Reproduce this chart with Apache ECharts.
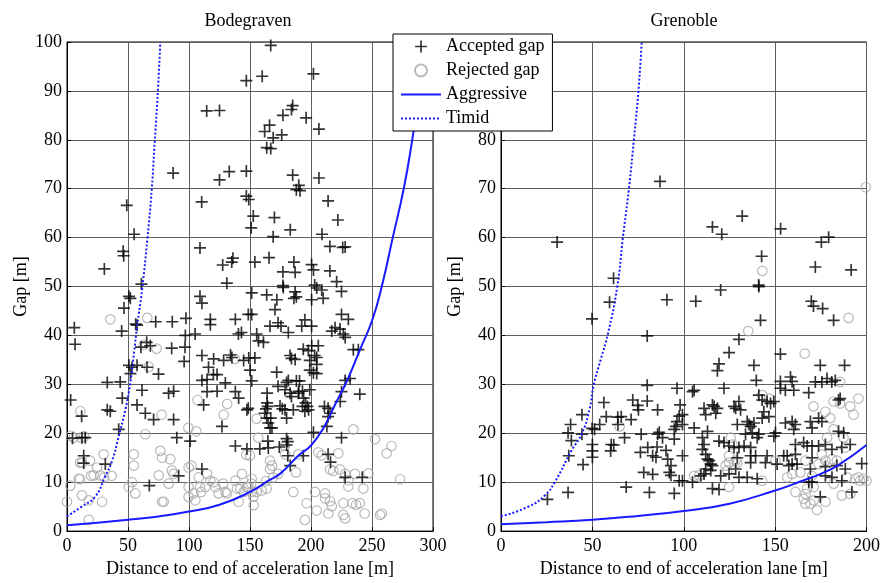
<!DOCTYPE html>
<html>
<head>
<meta charset="utf-8">
<script src="https://cdn.jsdelivr.net/npm/echarts@6/dist/echarts.min.js"></script>
<style>
html,body{margin:0;padding:0;background:#fff;}
#chart{width:883px;height:583px;}
</style>
</head>
<body>
<div id="chart"></div>
<script>
// ---------- data ----------
const panelTitles = ['Bodegraven', 'Grenoble'];
const xTicksLeft = [0, 50, 100, 150, 200, 250, 300];
const xTicksRight = [0, 50, 100, 150, 200];
const yTicks = [0, 10, 20, 30, 40, 50, 60, 70, 80, 90, 100];

const bodAccepted = [
[167,99.3],[147,92.1],[160,93],[202,93.5],[114.5,85.9],[125,86],[185,87],[184,86.2],[177,85],[196,84.5],[206.5,82.2],[166,83],[162,81.7],[169,80.4],[176,81],[163.7,78.4],[167,78.2],[87,73.2],[125,71.8],[133,73.5],[147,73.6],[185,72.8],[206.5,72.2],[190,70.7],[188,69.8],[191,69.6],[49,66.6],[110.4,67.3],[147,68.5],[149,67.8],[214,67.5],[152.7,64.4],[170,64.1],[222,63.6],[151,62],[55,60.7],[169,60.2],[183,61.6],[209,60.7],[46,57.2],[46.5,56.3],[109,57.9],[215.5,58.2],[226,58],[228,58.1],[30.6,53.6],[127.6,54.4],[135,55],[136,55.8],[154,55],[165.6,55.9],[186,55],[200.5,54.5],[177,53],[187,52.9],[202,53.4],[215.5,53.2],[131,50.7],[177,50.2],[221,51],[203,50.3],[61,50.5],
[50.8,48],[51.9,47.6],[46.7,45.6],[44.8,40.9],[56.3,42.3],[57.4,42.1],[6,41.6],[6.6,38.2],[3,26.8],[72.7,42.8],[86.3,42.8],[97.5,43.5],[97,40],[105,40.3],[96.7,37.6],[96,34.7],[85.8,37.4],[65.3,38.6],[60.6,37.6],[68.3,37.9],[50.8,33.9],[53.3,33.5],[57.4,33.9],[65.6,33.5],[52,32.2],[75,32.1],[33,30.4],[43.6,30.5],[45.3,27.2],[61.5,28.8],[57.4,25.8],[64.2,24.1],[71,22.8],[33,24.8],[35.5,24.5],[12,23.5],[42.4,20.8],[4.5,19],[12.3,19.1],[15,19.1],[13.7,15.4],[13.7,13.9],[31.4,13.7],[67.5,9.3],[83.3,28.2],[87.4,28.6],[87.4,22.8],[90,19.1],[91.5,11.3],[101,18.4],[110.6,35.9],[110.6,30.8],[114.8,31],[116,33.5],[120,32],[123,32],[114.8,28.5],[123,28.6],[112,25.8],[120.2,35.2],[128.4,34.9],[134,36],[135.2,35.5],[144.8,34.9],[129.8,30.3],[127,21.4],[110.6,12.7],[138,17.4],[109,48],[110.6,46.6],[117.5,43.3],[117.5,42.2],[138,43.3],[140.5,40.3],[143,40.6],[138,28.5],[140.7,27.2],[147.5,24.8],[147.5,16.8],
[162,24.1],[163.7,23.1],[165,22.1],[166.4,21.1],[167,23.1],[168,21.1],[164,26.2],[164.5,25.5],[163,25],[164,28.2],[164.7,18.4],[165,17],[174.6,25.6],[176.5,25],[180,23.1],[178.7,24.8],[185.5,24.8],[180,18.9],[181,18.3],[180,17.6],[174,17.2],[182.8,28.2],[184,27.5],[189.6,28.2],[190,28.6],[194,27.2],[195.5,26.2],[197,25.5],[198,24.8],[193,25.5],[195,24.5],[199,28.9],[173,29.6],[178.7,28.9],[181.4,30.8],[188,30.7],[190.6,30.7],[199,32.9],[202,32.4],[204.7,32.2],[199,34.9],[204.7,34.1],[203,35.9],[204.7,35.5],[206,37.9],[200.6,37.9],[193.7,37.2],[197.8,36.9],[182.8,35.9],[184,35.3],[187,35.1],[171.9,32.5],[150,32.9],[151.4,30.7],[154,35.4],[149,35.4],[148.6,25.1],[158,16.8],[181,15.4],[183,13.4],[193.7,15.4],[148.6,44.3],[151.4,44.3],[155.5,40.3],[157,38.9],[161,38.6],[166.4,41.9],[173,42.6],[175.4,41.9],[181.4,40.6],[192.4,41.9],[200.5,41.9],[195,43.2],[217,40.9],[219.7,41.6],[223.8,41.3],[226.5,40.3],[228,39.6],[225,44.3],[230.6,43.3],[170.5,45.3],[172,47.3],[163.7,48.3],[151.4,48.7],[187,48.9],[188,47.9],[186,47.6],[204.7,49.7],[208.8,49.3],[210,47.6],[200.5,47.3],[225,49],[177.3,49.8],[234.7,37.1],[238.8,37.1],[228,30.8],[232,31.2],[225,28.5],[224,26.5],[240,28],[214,25.1],[211,25.5],[215.6,24.1],[214,23.4],[213,21.4],[202,20.2],[225,19.1],[214,15.7],[216,14.1],[228,11],[242,11],[180,30.4],[193,28.6]
];

const bodRejected = [
[5.5,19.1],[30,15.7],[12.3,14],[24.6,13],[21.9,11.4],[27.3,11.4],[9.6,10.7],[2.7,9.3],[0,6],[12.3,7.3],[17.8,6.3],[28.7,6],[17.8,2.3],[54.7,15.7],[54.7,13.4],[76.5,16.4],[77.9,15],[84.7,14.7],[87.4,11.7],[86,12.4],[75.2,11.4],[79.3,6],[53.3,10],[56,7.7],[50.6,9],[83.4,9.7],[99.7,9],[99.7,7],[103.8,7.7],[105.2,6.3],[108,11],[114.8,11.7],[113.4,9],[121.6,9],[124.3,7.7],[117.5,10.3],[120.2,10],[129.8,8],[138,10.3],[143.4,11.7],[139.3,8.7],[140.7,6],[147.5,9],[99.7,13],[77.9,6],[64.2,19.8],
[11.5,19.1],[14,19.3],[18.9,14.4],[10.7,14],[19.7,11.3],[30.5,11],[36.6,11.3],[10.7,10.6],[102,13.4],[109,9],[110,8],[128,9.7],[131,7.7],[142,8.7],[144.8,8],[147,15.6],
[35.5,43.3],[65.8,43.6],[63,38.1],[73.5,37.3],[67,33.6],[11,24.5],[77.5,23.8],[107,26.8],[106,20.4],[99.5,21.1],[128.4,23.8],[131.3,26],[137.7,35.2],[3.3,19.5],
[151,9.7],[152.7,7],[148.6,9],[153,5.3],[150,15.4],[155.5,23],[156.8,19.1],[155.5,8],[163.7,8.7],[159.6,8.3],[166.4,14.4],[168,13.4],[163,10.2],[178.7,17.4],[178.7,15.7],[185.5,8],[187.7,12],[196.5,5.7],[195,2.3],[204.7,4.2],[203.3,8],[206,16.1],[208.8,15.5],[215.6,12.6],[218.3,12.3],[222.4,15.9],[223.8,12.6],[211.5,7.7],[211.5,6.7],[215.6,6.1],[217,5.1],[214.2,3.6],[226.5,3.3],[226.5,5.7],[230.6,10.4],[230.6,9.1],[236,11.7],[234.7,20.8],[234,5.7],[237,5.4],[240,5.7],[242.9,8.7],[244,3.6],[247,11.8],[252.5,18.8],[258,3.6],[262,15.9],[266,17.4],[273,10.6],[256.6,3.3],[169,11],[173,11.7],[189.6,15.7],[151.4,10.7],[151.4,8],[228,2.6],[228,11.7],[166.4,12.7]
];

const greAccepted = [
[30.7,59.1],[61.6,51.7],[87,71.5],[115.7,62.2],[120.8,60.7],[132,64.4],[142.6,56.2],[141,50.3],[153,61.8],[175.3,59.1],[179.3,60.1],[172,54],[191.6,53.4],
[59.4,46.8],[49.8,43.4],[90.8,47.3],[80,39.9],[80,29.8],[96.3,29.2],[98,25.8],[56.3,26.3],[72.1,26.8],[74.8,25.7],[75.2,24.8],[80,26.6],[85.7,24.8],[44.3,23.8],[57.6,23.4],[63.9,23.3],[71.2,22.8],[54,21.8],[51.2,20.8],[38.1,21.8],[36.7,20.1],[38.5,18.5],[44.3,19.8],[49.8,21],[67.6,19.1],[76.7,19.8],[86.6,20.2],[85.7,19.8],[88.4,19.1],[94.8,20.8],[95.7,21.4],[96.3,22.4],[94.8,18.8],[97.5,23.5],[60.3,17.7],[61.7,17.6],[60,16.4],[50,17.7],[50,16.4],[50,15.1],[37.1,15.4],[44.9,13.6],[76.3,16.1],[80.3,17.1],[85.4,17.2],[90.3,16.5],[83,15.4],[84.8,15.1],[91.2,14.7],[93,13.4],[92.1,12],[93,11.4],[97.5,10.3],[99.3,15.4],[78.1,12],[83,11.6],[68.5,9],[81.2,7.9],[94.8,7.7],[36.7,7.9],[25.4,6.5],[65.8,23.4],[64,21.8],
[120.2,49.3],[141.1,50],[106.6,47],[142,43.1],[169.8,47],[171,46],[176,45.5],[182,43.1],[130.2,39.2],[124.8,36.5],[119.3,34.2],[118.4,32.8],[138.4,33.9],[139.7,30.8],[122,29.2],[152.9,36.2],[174.7,33.9],[188,33.9],[158.4,31.5],[152.9,30.6],[159.3,30.6],[152.9,29.2],[155.6,28.8],[160.2,28.8],[172,30.5],[175.6,30.5],[178.4,31.2],[181,30.5],[182.9,30.8],[168.4,28.3],[185.6,27.1],[184.7,26.8],[104.8,28.5],[105.7,28.8],[99.3,23.8],[99.3,21.8],[99.3,10.3],[104.8,10],[111.1,25.1],[115.7,25.8],[112,23.8],[117.5,24.1],[116.6,25.5],[118.4,25.1],[105.7,21.1],[113,20.4],[110.2,19.1],[111.1,17.7],[110.2,16.7],[112,15.7],[113,14.7],[113.9,14.4],[114.8,13.7],[115.7,13.4],[112,12.7],[114.8,12.4],[109.3,11.3],[111.1,11.7],[115.7,8.7],[119.3,8.5],[119.3,18.4],[122,18.1],[124.8,17.4],[127.5,17.1],[130.2,17.1],[133,17.4],[136.6,17.1],[120.2,11.3],[124.8,11.7],[130.2,11],[134.7,11],[128.4,12.7],[129.3,15],[136.6,15.4],[139.3,15.4],[136.6,14],[127.5,25.5],[128.4,25.1],[131.1,24.8],[130.2,26.5],[129.3,21.8],[134.7,22.4],[135.7,21.8],[136.6,21.4],[138.4,22.1],[133.8,19.8],[137.5,20.1],[140.2,19.1],[141.1,19.8],[141.1,27.8],[142.9,26.8],[145.6,26.5],[147.5,26.1],[149.3,26.5],[143.8,24.4],[146.6,23.4],[142.9,23.1],[145.6,15.4],[144.7,14],[140.2,10.7],[150.2,20.1],[149.3,19.4],[154.7,15.4],[156.6,15.4],[161.1,15.7],[151.1,13.7],[157.5,13.4],[159.3,13.7],[162,13.7],[155.6,22.1],[159.3,22.4],[161.1,21.8],[160.2,20.8],[169.3,22.4],[170.2,21.1],[173.8,23.1],[175.6,22.4],[161.1,17.7],[165.6,18.1],[167.5,17.4],[170.2,17.4],[173.8,17.4],[177.5,17.7],[181.1,16.7],[186.5,17.1],[191.1,17.7],[170.2,15],[169.3,12.7],[177.5,11.3],[181.1,11],[168.4,10],[170.2,10],[174.7,7],[188.4,12.7],[192,8],[197.4,13.8],[186.5,10.3],[184.7,20.4],[187.5,20.1],[183.8,13.4],[177.5,13.2]
];

const greRejected = [
[143,53.2],[199.6,70.3],[64.9,21.4],[190.2,43.6],[200.2,37.6],[166.2,36.3],[135.3,40.9],[185.6,30.5],[182,26.5],[185.6,26.1],[195.6,27.1],[191.1,25.5],[192.9,23.8],[171,25.5],[177.5,24.4],[180.2,23.1],[182,20.8],[187.4,19.1],[178.4,19.1],[188.4,17.1],[142.9,27.8],[146.6,27.1],[125.7,19.1],[124.8,15.4],[124.8,14],[129.3,14],[122.9,13.4],[105.7,11.3],[108.4,11.4],[124.8,9],[142.9,10.3],[150.2,14.4],[156.6,11],[159.3,11.7],[163.8,12],[166.6,14.4],[173.8,13.7],[175.6,15.7],[177.5,14.4],[170.2,11.3],[171.1,9],[161.1,8],[166.6,7.6],[165.6,6.6],[166.6,5.6],[167.5,8.7],[169.3,5.6],[171.1,6.3],[172.9,4.3],[177.5,6],[182,9.7],[186.5,7.3],[191.1,7.6],[189.3,11],[193.8,10.7],[196.5,10.3],[198.3,10.7],[200,10.3],[195.6,11],[181.1,14.7],[183.8,14.4],[126.6,17.7],[123.9,12.4],[128.4,14.4]
];

// curves: [distance, gap]
const bodAggressive = [[0,1.2],[25,1.7],[50,2.3],[75,3.0],[100,4.0],[125,5.4],[150,8.0],[165,10.3],[175,11.8],[190,15.5],[200,17.5],[210,21],[220,26],[230,31],[240,37],[250,43],[258,50],[267,60],[276,70],[283,80],[289,90],[294,100]];
const bodTimid = [[0,3],[12,5],[23,7],[31,11],[37,14.4],[42,19],[48,25],[52,30.5],[55,36.6],[57.5,42],[61.5,49.3],[66,60],[69.5,70],[72,80],[74.5,90],[76.5,100]];
const greAggressive = [[0,1.4],[25,1.8],[50,2.3],[75,3.1],[100,4.1],[125,5.6],[150,8.3],[165,10.3],[175,11.7],[185,13.6],[200,17.6]];
const greTimid = [[0,3],[15,5],[24,7.3],[29.4,10],[38.5,16.4],[44.3,20],[48.5,25],[50.7,29.8],[54.5,35],[58.5,40.3],[63.6,50],[66.7,60],[70,70],[72.7,80],[75.2,90],[77,100]];

// ---------- styling ----------
const FONT = 'Liberation Serif';
const BLUE = '#1a1aff';
const plusPath = 'path://M8.6,0H11.4V8.6H20V11.4H11.4V20H8.6V11.4H0V8.6H8.6Z';
const txt = {fontFamily: FONT, fontSize: 18, color: '#000'};

function xAxisFor(i, ticks) {
  return {
    type: 'value', gridIndex: i, min: ticks[0], max: ticks[ticks.length - 1], interval: 50,
    name: 'Distance to end of acceleration lane [m]', nameLocation: 'middle', nameGap: 24,
    nameTextStyle: txt,
    axisLine: {show: true, onZero: false, lineStyle: {color: '#000', width: 1}},
    axisTick: {show: true, inside: true, length: 4, lineStyle: {color: '#000'}},
    axisLabel: Object.assign({margin: 6}, txt),
    splitLine: {show: true, lineStyle: {color: '#5e5e5e', width: 1}}
  };
}
function yAxisFor(i) {
  return {
    type: 'value', gridIndex: i, min: yTicks[0], max: yTicks[yTicks.length - 1], interval: 10,
    name: 'Gap [m]', nameLocation: 'middle', nameGap: 37,
    nameTextStyle: txt,
    axisLine: {show: true, onZero: false, lineStyle: {color: '#000', width: 1}},
    axisTick: {show: true, inside: true, length: 4, lineStyle: {color: '#000'}},
    axisLabel: Object.assign({margin: 5}, txt),
    splitLine: {show: true, lineStyle: {color: '#5e5e5e', width: 1}}
  };
}
function panelSeries(i, acc, rej, agg, tim) {
  return [
    {name: 'Rejected gap', type: 'scatter', xAxisIndex: i, yAxisIndex: i, data: rej,
     symbol: 'circle', symbolSize: 9.5,
     itemStyle: {color: 'rgba(0,0,0,0)', borderColor: '#a9a9a9', borderWidth: 1.2}, z: 2},
    {name: 'Accepted gap', type: 'scatter', xAxisIndex: i, yAxisIndex: i, data: acc,
     symbol: plusPath, symbolSize: 12,
     itemStyle: {color: '#000'}, z: 3},
    {name: 'Aggressive', type: 'line', xAxisIndex: i, yAxisIndex: i, data: agg,
     symbol: 'none', smooth: true, lineStyle: {color: BLUE, width: 2}, itemStyle: {color: BLUE}, z: 4},
    {name: 'Timid', type: 'line', xAxisIndex: i, yAxisIndex: i, data: tim,
     symbol: 'none', smooth: true, lineStyle: {color: BLUE, width: 2, type: [2, 2]}, itemStyle: {color: BLUE}, z: 4}
  ];
}

const chart = echarts.init(document.getElementById('chart'), null, {renderer: 'canvas'});
chart.setOption({
  animation: false,
  backgroundColor: '#fff',
  title: [
    {text: panelTitles[0], left: 248, top: 12, textAlign: 'center', padding: 0,
     textStyle: {fontFamily: FONT, fontSize: 18, fontWeight: 'normal', color: '#000'}},
    {text: panelTitles[1], left: 684, top: 12, textAlign: 'center', padding: 0,
     textStyle: {fontFamily: FONT, fontSize: 18, fontWeight: 'normal', color: '#000'}}
  ],
  grid: [
    {left: 67, top: 42, width: 366, height: 496, show: true, borderColor: '#000', borderWidth: 1, backgroundColor: 'rgba(0,0,0,0)'},
    {left: 501, top: 42, width: 367, height: 496, show: true, borderColor: '#000', borderWidth: 1, backgroundColor: 'rgba(0,0,0,0)'}
  ],
  xAxis: [xAxisFor(0, xTicksLeft), xAxisFor(1, xTicksRight)],
  yAxis: [yAxisFor(0), yAxisFor(1)],
  legend: {
    orient: 'vertical', left: 393, top: 34,
    backgroundColor: '#fff', borderColor: '#000', borderWidth: 1,
    padding: [3, 8, 3, 7], itemWidth: 40, itemHeight: 12, itemGap: 5,
    textStyle: {fontFamily: FONT, fontSize: 18, color: '#000', lineHeight: 19},
    selectedMode: false,
    data: [
      {name: 'Accepted gap'},
      {name: 'Rejected gap'},
      {name: 'Aggressive', itemStyle: {opacity: 0}},
      {name: 'Timid', itemStyle: {opacity: 0}}
    ],
    z: 10
  },
  series: [].concat(
    panelSeries(0, bodAccepted, bodRejected, bodAggressive, bodTimid),
    panelSeries(1, greAccepted, greRejected, greAggressive, greTimid)
  )
});
</script>
</body>
</html>
